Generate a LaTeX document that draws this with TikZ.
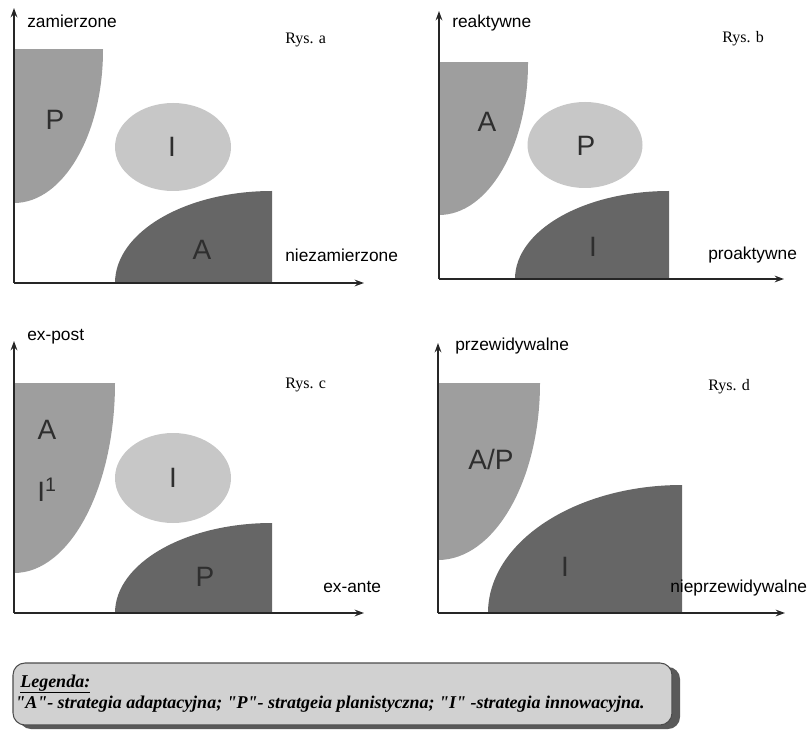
\documentclass[tikz,border=0pt]{standalone}
\usepackage{fontspec}
\setmainfont{Liberation Serif}
\setsansfont{Liberation Sans}
\usetikzlibrary{arrows.meta}
\begin{document}
\begin{tikzpicture}[x=0.75pt,y=-0.75pt,
  axis/.style={line width=1.3pt, black!85, -{Stealth[length=7pt,width=5pt]}},
  lightreg/.style={fill=black!38},
  ellreg/.style={fill=black!22},
  darkreg/.style={fill=black!60},
  axlab/.style={font=\sffamily\fontsize{13}{15}\selectfont, anchor=base west, inner sep=0pt},
  rys/.style={font=\rmfamily\fontsize{12}{14}\selectfont, anchor=base west, inner sep=0pt},
  big/.style={font=\sffamily\fontsize{21}{24}\selectfont, inner sep=0pt, text=black!82},
  legtxt/.style={font=\rmfamily\bfseries\itshape\fontsize{13.5}{16}\selectfont, anchor=base west, inner sep=0pt}]
\useasboundingbox (0,0) rectangle (809,730);

% ---------------- Panel a ----------------
\begin{scope}
  \clip (14,50) rectangle (103,203);
  \fill[lightreg] (14,50) ellipse [x radius=89, y radius=153];
\end{scope}
\fill[ellreg] (173,147) ellipse [x radius=58, y radius=44];
\begin{scope}
  \clip (115,191) rectangle (272,283);
  \fill[darkreg] (272,283) ellipse [x radius=157, y radius=92];
\end{scope}
\coordinate (ao) at (14,283);
\coordinate (ay) at (14,8);
\coordinate (ax) at (364,283);
\draw[axis] (ao) -- (ay);
\draw[axis] (ao) -- (ax);
\node[axlab] (aly) at (27,28) {zamierzone};
\node[axlab] (alx) at (285,262) {niezamierzone};
\node[rys] (ar) at (285,44) {Rys. a};
\node[big] (aP) at (55,120) {P};
\node[big] (aI) at (172,147) {I};
\node[big] (aA) at (202,250) {A};

% ---------------- Panel b ----------------
\begin{scope}
  \clip (439,63) rectangle (528,215);
  \fill[lightreg] (439,63) ellipse [x radius=89, y radius=152];
\end{scope}
\fill[ellreg] (585,145) ellipse [x radius=57.5, y radius=43];
\begin{scope}
  \clip (515,191) rectangle (669,279);
  \fill[darkreg] (669,279) ellipse [x radius=154, y radius=88];
\end{scope}
\coordinate (bo) at (439,279);
\coordinate (by) at (439,11);
\coordinate (bx) at (784,279);
\draw[axis] (bo) -- (by);
\draw[axis] (bo) -- (bx);
\node[axlab] (bly) at (452,28) {reaktywne};
\node[axlab] (blx) at (708,260) {proaktywne};
\node[rys] (br) at (722,43) {Rys. b};
\node[big] (bA) at (487,122) {A};
\node[big] (bP) at (586,146) {P};
\node[big] (bI) at (593,247) {I};

% ---------------- Panel c ----------------
\begin{scope}
  \clip (14,383) rectangle (115,573);
  \fill[lightreg] (14,383) ellipse [x radius=101, y radius=190];
\end{scope}
\fill[ellreg] (173,478) ellipse [x radius=58, y radius=45];
\begin{scope}
  \clip (115,523) rectangle (272,613);
  \fill[darkreg] (272,613) ellipse [x radius=157, y radius=90];
\end{scope}
\coordinate (co) at (14,613);
\coordinate (cy) at (14,341);
\coordinate (cx) at (364,613);
\draw[axis] (co) -- (cy);
\draw[axis] (co) -- (cx);
\node[axlab] (cly) at (27,340) {ex-post};
\node[axlab] (clx) at (323,592) {ex-ante};
\node[rys] (cr) at (285,388) {Rys. c};
\node[big] (cA) at (47,430) {A};
\node[big] (cI1) at (47,490) {I\textsuperscript{1}};
\node[big] (cI) at (173,478) {I};
\node[big] (cP) at (205,577) {P};

% ---------------- Panel d ----------------
\begin{scope}
  \clip (438,383) rectangle (540,560);
  \fill[lightreg] (438,383) ellipse [x radius=102, y radius=177];
\end{scope}
\begin{scope}
  \clip (488,485) rectangle (682,613);
  \fill[darkreg] (682,613) ellipse [x radius=194, y radius=128];
\end{scope}
\coordinate (do) at (438,613);
\coordinate (dy) at (438,343);
\coordinate (dx) at (785,613);
\draw[axis] (do) -- (dy);
\draw[axis] (do) -- (dx);
\node[axlab] (dly) at (455,350) {przewidywalne};
\node[axlab] (dlx) at (670,592) {nieprzewidywalne};
\node[rys] (dr) at (708,390) {Rys. d};
\node[big] (dAP) at (491,459) {A/P};
\node[big] (dI) at (565,567) {I};

% ---------------- Legend ----------------
\fill[black!65, rounded corners=9pt] (19,667) rectangle (680,729);
\draw[fill=black!18, draw=black!70, line width=0.8pt, rounded corners=9pt] (13,663) rectangle (672,725);
\node[legtxt] (leg1) at (20,687) {\underline{Legenda:}};
\node[legtxt] (leg2) at (15,708) {\textquotedbl A\textquotedbl- strategia adaptacyjna; \textquotedbl P\textquotedbl- stratgeia planistyczna; \textquotedbl I\textquotedbl\ -strategia innowacyjna.};
\end{tikzpicture}
\end{document}
